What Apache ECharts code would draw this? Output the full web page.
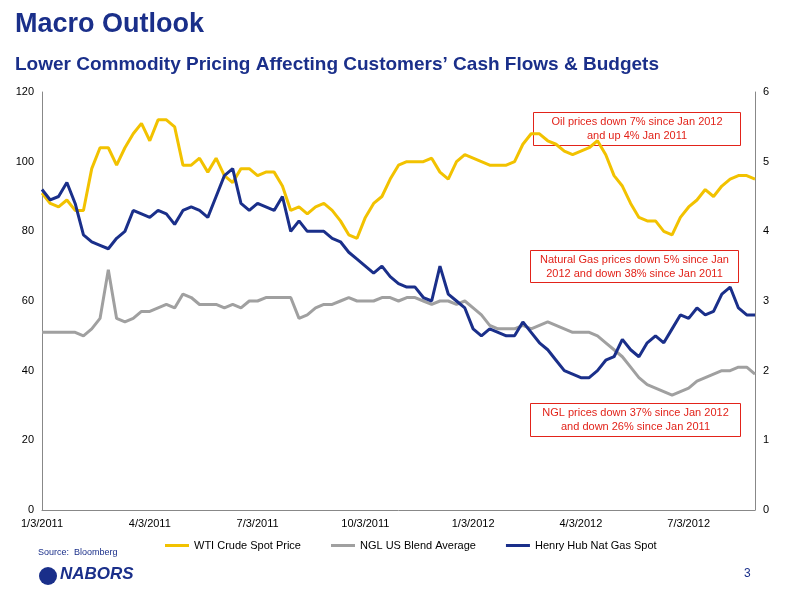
<!DOCTYPE html>
<html><head><meta charset="utf-8">
<script src="https://cdn.jsdelivr.net/npm/echarts@6/dist/echarts.min.js"></script>
<style>html,body{margin:0;background:#fff}#c{width:800px;height:600px}</style>
</head><body><div id="c"></div>
<script>
// weekly points, 1/3/2011 .. late Aug 2012
let tickLabels = {0:'1/3/2011',13:'4/3/2011',26:'7/3/2011',39:'10/3/2011',52:'1/3/2012',65:'4/3/2012',78:'7/3/2012'};
let wti = [91,88,87,89,86,86,98,104,104,99,104,108,111,106,112,112,110,99,99,101,97,101,96,94,98,98,96,97,97,93,86,87,85,87,88,86,83,79,78,84,88,90,95,99,100,100,100,101,97,95,100,102,101,100,99,99,99,100,105,108,108,106,105,103,102,103,104,106,102,96,93,88,84,83,83,80,79,84,87,89,92,90,93,95,96,96,95];
let ngl = [51,51,51,51,51,50,52,55,69,55,54,55,57,57,58,59,58,62,61,59,59,59,58,59,58,60,60,61,61,61,61,55,56,58,59,59,60,61,60,60,60,61,61,60,61,61,60,59,60,60,59,60,58,56,53,52,52,52,53,52,53,54,53,52,51,51,51,50,48,46,44,41,38,36,35,34,33,34,35,37,38,39,40,40,41,41,39];
let henryHub = [4.6,4.45,4.5,4.7,4.4,3.95,3.85,3.8,3.75,3.9,4.0,4.3,4.25,4.2,4.3,4.25,4.1,4.3,4.35,4.3,4.2,4.5,4.8,4.9,4.4,4.3,4.4,4.35,4.3,4.5,4.0,4.15,4.0,4.0,4.0,3.9,3.85,3.7,3.6,3.5,3.4,3.5,3.35,3.25,3.2,3.2,3.05,3.0,3.5,3.1,3.0,2.9,2.6,2.5,2.6,2.55,2.5,2.5,2.7,2.55,2.4,2.3,2.15,2.0,1.95,1.9,1.9,2.0,2.15,2.2,2.45,2.3,2.2,2.4,2.5,2.4,2.6,2.8,2.75,2.9,2.8,2.85,3.1,3.2,2.9,2.8,2.8];
let weeks = wti.map((v, i) => i);

let box = (x, y, w, h, text) => ({
  type: 'group', left: x, top: y, children: [
    {type: 'rect', shape: {width: w, height: h}, style: {fill: '#fff', stroke: '#e2231a', lineWidth: 1}},
    {type: 'text', x: w / 2, y: h / 2, style: {text: text, fill: '#e2231a', font: '11px Arial', align: 'center', verticalAlign: 'middle', lineHeight: 14}}
  ]
});

let option = {
  textStyle: {fontFamily: 'Arial'},
  title: [
    {text: 'Macro Outlook', left: 10, top: 6, textStyle: {color: '#1a2f8a', fontSize: 27, fontWeight: 'bold'}},
    {text: 'Lower Commodity Pricing Affecting Customers’ Cash Flows & Budgets', left: 10, top: 50, textStyle: {color: '#1a2f8a', fontSize: 19, fontWeight: 'bold'}}
  ],
  grid: {left: 42, right: 45, top: 92, bottom: 90},
  legend: {
    bottom: 44, left: 160, itemWidth: 24, itemHeight: 3, itemGap: 30,
    icon: 'rect', textStyle: {fontSize: 11, color: '#000'},
    data: ['WTI Crude Spot Price', 'NGL US Blend Average', 'Henry Hub Nat Gas Spot']
  },
  xAxis: {
    type: 'category', data: weeks, boundaryGap: false,
    axisLine: {lineStyle: {color: '#888'}},
    axisTick: {show: false},
    axisLabel: {color: '#000', fontSize: 11, interval: 0, formatter: (v, i) => tickLabels[i] || ''}
  },
  yAxis: [
    {type: 'value', min: 0, max: 120, interval: 20, splitLine: {show: false},
     axisLine: {show: true, lineStyle: {color: '#888'}}, axisLabel: {color: '#000', fontSize: 11}},
    {type: 'value', min: 0, max: 6, interval: 1, splitLine: {show: false},
     axisLine: {show: true, lineStyle: {color: '#888'}}, axisLabel: {color: '#000', fontSize: 11}}
  ],
  series: [
    {name: 'WTI Crude Spot Price', type: 'line', data: wti, showSymbol: false, color: '#f2c200', lineStyle: {width: 3}},
    {name: 'NGL US Blend Average', type: 'line', data: ngl, showSymbol: false, color: '#a0a0a0', lineStyle: {width: 3}},
    {name: 'Henry Hub Nat Gas Spot', type: 'line', yAxisIndex: 1, data: henryHub, showSymbol: false, color: '#1a2f8a', lineStyle: {width: 3}}
  ],
  graphic: [
    box(533, 112, 207, 33, 'Oil prices down 7% since Jan 2012\nand up 4% Jan 2011'),
    box(530, 250, 208, 32, 'Natural Gas prices down 5% since Jan\n2012 and down 38% since Jan 2011'),
    box(530, 403, 210, 33, 'NGL prices down 37% since Jan 2012\nand down 26% since Jan 2011'),
    {type: 'text', left: 38, top: 548, style: {text: 'Source:  Bloomberg', fill: '#1a2f8a', font: '9px Arial'}},
    {type: 'text', left: 60, top: 566, style: {text: 'NABORS', fill: '#1a2f8a', font: 'italic bold 17px Arial'}},
    {type: 'circle', shape: {cx: 48, cy: 576, r: 9}, style: {fill: '#1a2f8a'}},
    {type: 'text', left: 744, top: 568, style: {text: '3', fill: '#1a2f8a', font: '12px Arial'}}
  ]
};

echarts.init(document.getElementById('c')).setOption(option);
</script>
</body></html>
